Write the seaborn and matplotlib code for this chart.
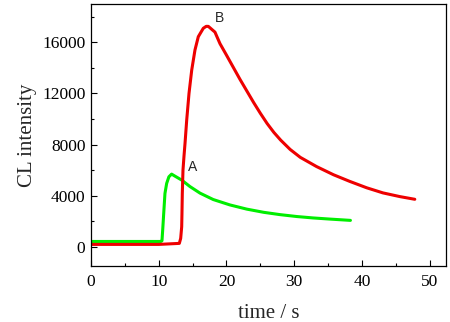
import seaborn as sns
import matplotlib
matplotlib.use('Agg')
import matplotlib.pyplot as plt
from matplotlib.ticker import MultipleLocator

# curve A (green) : time / s , CL intensity
time_a = [0, 5, 10.35, 10.48, 10.6, 10.78, 10.92, 11.17, 11.5, 11.9, 12.4, 13.4,
          14.6, 16.1, 18.05, 20.5, 23.0, 25.5, 27.9, 30.4, 32.8, 35.3, 38.3]
cl_a = [420, 420, 420, 480, 1440, 3000, 4180, 4960, 5480, 5690, 5530, 5220,
        4720, 4200, 3700, 3280, 2950, 2700, 2520, 2370, 2260, 2170, 2070]

# curve B (red)
time_b = [0, 5, 10, 13.04, 13.24, 13.39, 13.43, 13.48, 13.58, 13.73, 13.88, 14.13,
          14.47, 14.87, 15.35, 15.84, 16.58, 17.0, 17.32, 18.3, 19.04, 20.0, 21.0,
          22.0, 23.0, 24.0, 25.0, 26.0, 27.0, 28.0, 29.4, 30.9, 33.3, 35.8, 38.2,
          40.7, 43.1, 45.6, 47.8]
cl_b = [190, 190, 190, 270, 660, 1570, 2610, 4180, 6000, 7100, 8090, 9920,
        12010, 13830, 15400, 16440, 17100, 17250, 17250, 16800, 15900, 15000, 14050,
        13100, 12200, 11300, 10450, 9650, 8950, 8350, 7620, 7000, 6280, 5640, 5120,
        4620, 4220, 3930, 3720]

sns.set_theme(style="ticks")
plt.rcParams['font.family'] = ['Liberation Serif', 'DejaVu Serif']

fig = plt.figure(figsize=(4.5, 3.22), dpi=100)
ax = fig.add_axes([0.2022, 0.1739, 0.7888, 0.8137])

sns.lineplot(x=time_a, y=cl_a, sort=False, estimator=None, color='#00ee00',
             linewidth=2.2, ax=ax)
sns.lineplot(x=time_b, y=cl_b, sort=False, estimator=None, color='#ee0000',
             linewidth=2.2, ax=ax)

ax.set_xlim(0, 52.4)
ax.set_ylim(-1500, 19000)
ax.xaxis.set_major_locator(MultipleLocator(10))
ax.xaxis.set_minor_locator(MultipleLocator(5))
ax.yaxis.set_major_locator(MultipleLocator(4000))
ax.yaxis.set_minor_locator(MultipleLocator(2000))
ax.tick_params(which='both', direction='in', top=False, right=False,
               labelsize=12.5, width=0.8, colors='black')
ax.tick_params(which='major', length=4)
ax.tick_params(which='minor', length=2)
ax.tick_params(axis='x', pad=6)
ax.tick_params(axis='y', pad=4)
for s in ax.spines.values():
    s.set_visible(True)
    s.set_linewidth(0.9)
    s.set_color('black')

ax.set_xlabel('time / s', fontsize=15, labelpad=10)
ax.set_ylabel('CL intensity', fontsize=15, labelpad=4)

ax.text(15.0, 6260, 'A', family=['Liberation Sans', 'DejaVu Sans'], fontsize=10,
        ha='center', va='center')
ax.text(19.0, 17880, 'B', family=['Liberation Sans', 'DejaVu Sans'], fontsize=10,
        ha='center', va='center')

fig.savefig('out.png', dpi=100)
